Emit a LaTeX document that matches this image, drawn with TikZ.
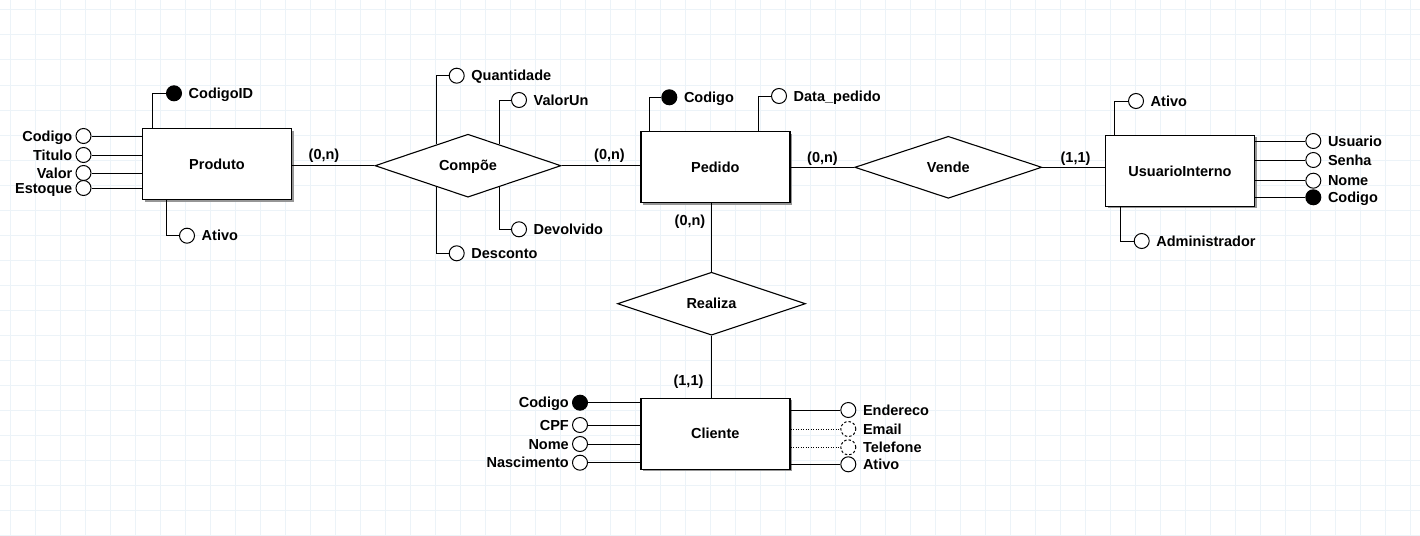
\documentclass[tikz,border=0pt]{standalone}
\usepackage{fontspec}
\setmainfont{Liberation Sans}
\usetikzlibrary{shapes.geometric,calc,shadows}
\definecolor{gridc}{RGB}{236,243,248}
\definecolor{shadowc}{RGB}{150,150,150}
\begin{document}
\begin{tikzpicture}[x=1pt,y=-1pt,
  every node/.style={font=\fontsize{14.5}{16}\selectfont\bfseries, text height=10.3pt, text depth=0pt},
  ent/.style={draw, line width=1.4pt, fill=white, minimum width=149pt, minimum height=71pt, inner sep=0pt,
    drop shadow={shadow xshift=2pt, shadow yshift=-2pt, fill=shadowc, opacity=1}},
  rel/.style={draw, diamond, line width=1.1pt, fill=white, aspect=3, inner sep=0pt},
  att/.style={circle, draw, line width=1pt, fill=white, minimum size=15pt, inner sep=0pt},
  key/.style={att, fill=black},
  datt/.style={att, dash pattern=on 2.5pt off 2pt},
  lr/.style={label={[inner sep=0pt, label distance=6.5pt]0:#1}},
  ll/.style={label={[inner sep=0pt, label distance=3pt]180:#1}},
  con/.style={line width=1pt, black},
  dcon/.style={line width=0.9pt, black, dash pattern=on 1pt off 1.5pt}]
% background and grid
\fill[white] (0,0) rectangle (1420,535);
\useasboundingbox (0,0) rectangle (1420,535);
\foreach \x in {10,35,...,1410} \draw[gridc, line width=1pt] (\x,0) -- (\x,535);
\foreach \y in {10,35,...,535} \draw[gridc, line width=1pt] (0,\y) -- (1420,\y);

% entities
\node[ent] (prod) at (217,164.2) {Produto};
\node[ent] (ped) at (715.3,167.2) {Pedido};
\node[ent] (ui) at (1180,170.9) {UsuarioInterno};
\node[ent] (cli) at (715.3,433.8) {Cliente};

% relationships
\node[rel, minimum width=186pt, minimum height=63pt] (comp) at (468,165.7) {Compõe};
\node[rel, minimum width=187pt, minimum height=62pt] (vende) at (948.3,167.3) {Vende};
\node[rel, minimum width=188pt, minimum height=63pt] (real) at (711.5,303.7) {Realiza};

% relationship connectors
\draw[con] (comp.west) -- (comp.west -| prod.east);
\draw[con] (comp.east) -- (comp.east -| ped.west);
\draw[con] (vende.west) -- (vende.west -| ped.east);
\draw[con] (vende.east) -- (vende.east -| ui.west);
\draw[con] (real.north) -- (real.north |- ped.south);
\draw[con] (real.south) -- (real.south |- cli.north);

% cardinalities
\node (k1) at (324,154) {(0,n)};
\node (k2) at (609.5,154) {(0,n)};
\node (k3) at (822.5,157.3) {(0,n)};
\node (k4) at (1075.5,157.3) {(1,1)};
\node (k5) at (690,220.7) {(0,n)};
\node (k6) at (688.5,380.7) {(1,1)};

% Produto attributes
\node[att, ll=Codigo] (pa1) at (83.5,136) {};
\node[att, ll=Titulo] (pa2) at (83.5,155) {};
\node[att, ll=Valor] (pa3) at (83.5,173) {};
\node[att, ll=Estoque] (pa4) at (83.5,188) {};
\node[key, lr=CodigoID] (pk) at (174,93.3) {};
\node[att, lr=Ativo] (pat) at (187,235.7) {};
\foreach \n in {pa1,pa2,pa3,pa4} \draw[con] (\n.east) -- (\n -| prod.west);
\draw[con] ([xshift=10.7pt]prod.north west) |- (pk);
\draw[con] ([xshift=25pt]prod.south west) |- (pat);

% Compoe attributes
\node[att, lr=Quantidade] (q) at (456.7,75.7) {};
\node[att, lr=ValorUn] (v) at (519,100) {};
\node[att, lr=Devolvido] (d) at (519,229.3) {};
\node[att, lr=Desconto] (s) at (456.7,253.3) {};
\coordinate (cq) at ($(comp.west)!0.663!(comp.north)$);
\coordinate (cv) at ($(comp.north)!0.337!(comp.east)$);
\coordinate (cd) at ($(comp.south)!0.337!(comp.east)$);
\coordinate (cs) at ($(comp.west)!0.663!(comp.south)$);
\draw[con] (cq) |- (q);
\draw[con] (cv) |- (v);
\draw[con] (cd) |- (d);
\draw[con] (cs) |- (s);

% Pedido attributes
\node[key, lr=Codigo] (pedk) at (669.3,97.3) {};
\node[att, lr=Data\_pedido] (pedd) at (779,96) {};
\draw[con] ([xshift=9.3pt]ped.north west) |- (pedk);
\draw[con] ([xshift=118.6pt]ped.north west) |- (pedd);

% UsuarioInterno attributes
\node[att, lr=Ativo] (uat) at (1136,101) {};
\node[att, lr=Administrador] (uad) at (1141.7,241) {};
\node[att, lr=Usuario] (u1) at (1313.3,141) {};
\node[att, lr=Senha] (u2) at (1313.3,160) {};
\node[att, lr=Nome] (u3) at (1313.3,180.7) {};
\node[key, lr=Codigo] (uk) at (1313.3,197.3) {};
\draw[con] ([xshift=10pt]ui.north west) |- (uat);
\draw[con] ([xshift=16pt]ui.south west) |- (uad);
\foreach \n in {u1,u2,u3,uk} \draw[con] (\n -| ui.east) -- (\n.west);

% Cliente attributes
\node[key, ll=Codigo] (ck) at (580,402.7) {};
\node[att, ll=CPF] (c2) at (580,425) {};
\node[att, ll=Nome] (c3) at (580,444) {};
\node[att, ll=Nascimento] (c4) at (580,462.7) {};
\node[att, lr=Endereco] (c5) at (848.3,410) {};
\node[datt, lr=Email] (c6) at (848.3,429) {};
\node[datt, lr=Telefone] (c7) at (848.3,447.3) {};
\node[att, lr=Ativo] (c8) at (848.3,464.3) {};
\foreach \n in {ck,c2,c3,c4} \draw[con] (\n.east) -- (\n -| cli.west);
\foreach \n in {c5,c8} \draw[con] (\n -| cli.east) -- (\n.west);
\foreach \n in {c6,c7} \draw[dcon] (\n -| cli.east) -- (\n.west);
\end{tikzpicture}
\end{document}
